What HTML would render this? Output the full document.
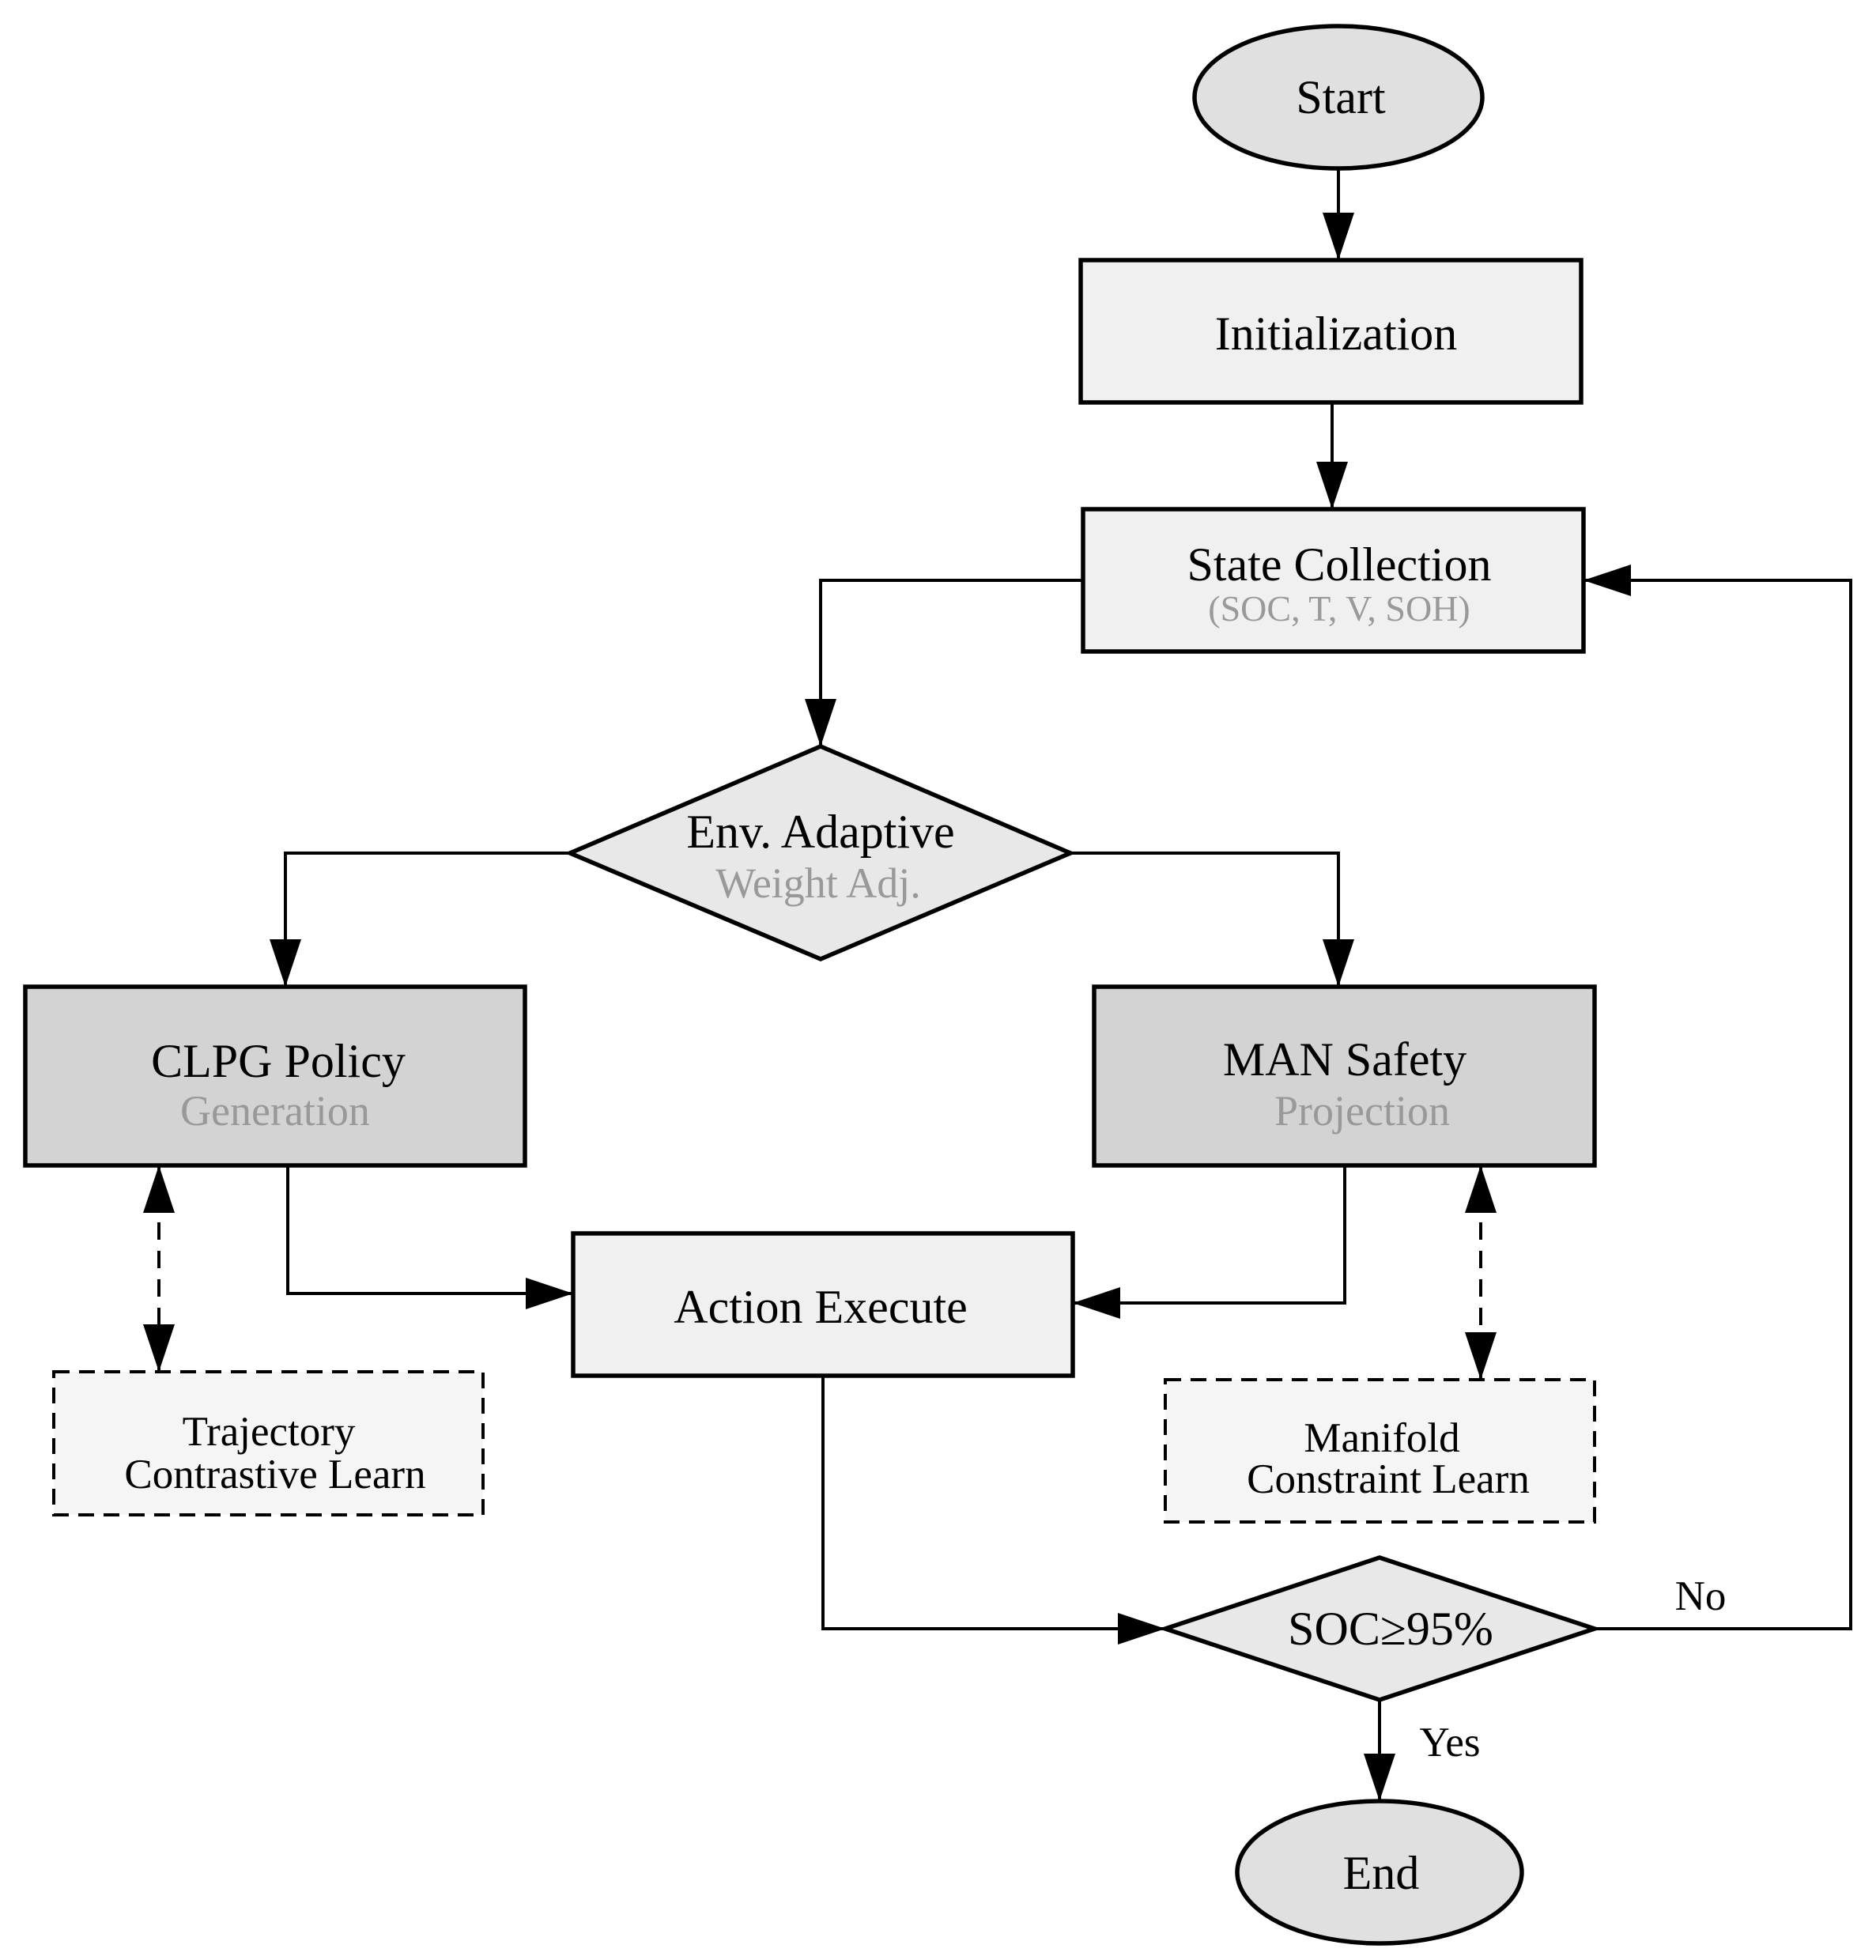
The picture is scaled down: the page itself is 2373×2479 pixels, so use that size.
<!DOCTYPE html>
<html><head><meta charset="utf-8"><style>html,body{margin:0;padding:0;background:#fff}svg{display:block}</style></head>
<body>
<svg width="2373" height="2479" viewBox="0 0 2373 2479" xmlns="http://www.w3.org/2000/svg" font-family="'Liberation Serif', serif" text-anchor="middle">
<defs>
<marker id="a" markerWidth="60" markerHeight="40" refX="60" refY="20" orient="auto" markerUnits="userSpaceOnUse"><path d="M0,0 L60,20 L0,40 Z" fill="#000"/></marker>
<marker id="b" markerWidth="60" markerHeight="40" refX="0" refY="20" orient="auto" markerUnits="userSpaceOnUse"><path d="M60,0 L0,20 L60,40 Z" fill="#000"/></marker>
</defs>
<g stroke="#000" stroke-width="4" fill="none">
<path d="M1693,213 V329" marker-end="url(#a)"/>
<path d="M1685,509 V644" marker-end="url(#a)"/>
<path d="M1370,734 H1038 V944" marker-end="url(#a)"/>
<path d="M721,1079 H361 V1248" marker-end="url(#a)"/>
<path d="M1354,1079 H1693 V1248" marker-end="url(#a)"/>
<path d="M364,1474 V1636 H725" marker-end="url(#a)"/>
<path d="M1701,1474 V1648 H1357" marker-end="url(#a)"/>
<path d="M201,1474 V1735" stroke-dasharray="22,14" marker-start="url(#b)" marker-end="url(#a)"/>
<path d="M1873,1474 V1745" stroke-dasharray="22,14" marker-start="url(#b)" marker-end="url(#a)"/>
<path d="M1041,1740 V2060 H1474" marker-end="url(#a)"/>
<path d="M2017,2060 H2341 V734 H2003" marker-end="url(#a)"/>
<path d="M1745,2150 V2278" marker-end="url(#a)"/>
</g>
<g stroke="#000" stroke-width="5.5">
<ellipse cx="1693" cy="123" rx="182" ry="90" fill="#e0e0e0"/>
<rect x="1367" y="329" width="633" height="180" fill="#f0f0f0"/>
<rect x="1370" y="644" width="633" height="180" fill="#f0f0f0"/>
<polygon points="1038,944 1354,1079 1038,1213 721,1079" fill="#e8e8e8"/>
<rect x="32" y="1248" width="632" height="226" fill="#d3d3d3"/>
<rect x="1384" y="1248" width="633" height="226" fill="#d3d3d3"/>
<rect x="725" y="1560" width="632" height="180" fill="#f0f0f0"/>
<polygon points="1745,1970 2017,2060 1745,2150 1474,2060" fill="#e8e8e8"/>
<ellipse cx="1745" cy="2368" rx="180" ry="90" fill="#e0e0e0"/>
</g>
<g stroke="#000" stroke-width="4" stroke-dasharray="20,12" fill="#f5f5f5">
<rect x="68" y="1735" width="543" height="181"/>
<rect x="1474" y="1745" width="543" height="180"/>
</g>
<g font-size="60" fill="#000">
<text x="1696" y="143">Start</text>
<text x="1690" y="442">Initialization</text>
<text x="1694" y="734">State Collection</text>
<text x="1038" y="1072">Env. Adaptive</text>
<text x="352" y="1362">CLPG Policy</text>
<text x="1701" y="1360">MAN Safety</text>
<text x="1038" y="1673">Action Execute</text>
<text x="1759" y="2080">SOC≥95%</text>
<text x="1747" y="2389">End</text>
</g>
<g font-size="54" fill="#999">
<text x="1035" y="1135">Weight Adj.</text>
<text x="348" y="1423">Generation</text>
<text x="1723" y="1423">Projection</text>
</g>
<text x="1694" y="785" font-size="46" fill="#999">(SOC, T, V, SOH)</text>
<g font-size="53" fill="#000">
<text x="340" y="1828">Trajectory</text>
<text x="348" y="1882">Contrastive Learn</text>
<text x="1748" y="1836">Manifold</text>
<text x="1756" y="1888">Constraint Learn</text>
<text x="2151" y="2036">No</text>
<text x="1834" y="2221">Yes</text>
</g>
</svg>
</body></html>
